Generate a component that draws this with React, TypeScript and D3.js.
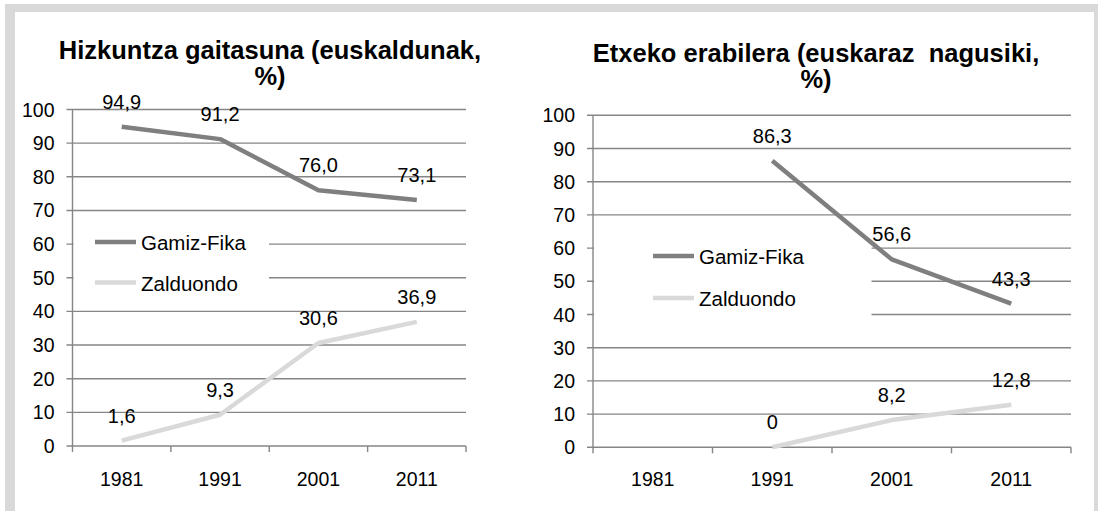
import * as d3 from 'd3';

const years = ['1981', '1991', '2001', '2011'];
const yTicks = [0, 10, 20, 30, 40, 50, 60, 70, 80, 90, 100];
const seriesNames = ['Gamiz-Fika', 'Zalduondo'];

const gaitasunaGamiz = [94.9, 91.2, 76.0, 73.1];
const gaitasunaZald = [1.6, 9.3, 30.6, 36.9];
const erabileraGamiz: (number | null)[] = [null, 86.3, 56.6, 43.3];
const erabileraZald: (number | null)[] = [null, 0, 8.2, 12.8];

const W = 1098;
const H = 511;
const FONT = '"Liberation Sans", Arial, sans-serif';
const dark = '#7f7f7f';
const light = '#d9d9d9';
const grid = '#868686';
const colors = [dark, light];

const fmt = (v: number) => (v === 0 ? '0' : v.toFixed(1).replace('.', ','));

interface PanelProps {
    titleLines: string[];
    titleX: number;
    titleY: number;
    x0: number;
    x1: number;
    yBottom: number;
    yTop: number;
    series: (number | null)[][];
    legendX: number;
    legendY: number;
    legendGap: number;
    legendBox: [number, number, number]; // right edge, top, bottom
}

function Panel(p: PanelProps) {
    const x = d3.scaleBand<string>().domain(years).range([p.x0, p.x1]);
    const y = d3.scaleLinear().domain([0, 100]).range([p.yBottom, p.yTop]);
    const cx = (d: string) => (x(d) || 0) + x.bandwidth() / 2;

    const line = d3.line<[string, number | null]>()
        .defined(d => d[1] !== null)
        .x(d => cx(d[0]))
        .y(d => y(d[1] as number));

    const ticksX = years.map(d => x(d) || 0).concat([p.x1]);

    return (
        <g>
            {p.titleLines.map((t, i) => (
                <text key={i} x={p.titleX} y={p.titleY + i * 26} textAnchor="middle"
                    fontFamily={FONT} fontWeight="bold" fontSize={25.5} fill="#000"
                    style={{ whiteSpace: 'pre' }}>{t}</text>
            ))}

            {/* gridlines */}
            {yTicks.map(t => (
                <g key={t}>
                    <line x1={p.x0 - 6} x2={p.x1} y1={y(t)} y2={y(t)} stroke={grid} strokeWidth={1.4} />
                    <text x={p.x0 - 18} y={y(t) + 7} textAnchor="end" fontFamily={FONT}
                        fontSize={19.5} fill="#000">{t}</text>
                </g>
            ))}

            {/* legend box hides gridlines */}
            <rect x={p.x0 + 1} y={p.legendBox[1]} width={p.legendBox[0] - p.x0 - 1}
                height={p.legendBox[2] - p.legendBox[1]} fill="#fff" />

            {/* axes */}
            <line x1={p.x0} x2={p.x0} y1={p.yTop} y2={p.yBottom} stroke={grid} strokeWidth={1.4} />
            {ticksX.map((tx, i) => (
                <line key={i} x1={tx} x2={tx} y1={p.yBottom} y2={p.yBottom + 6} stroke={grid} strokeWidth={1.4} />
            ))}
            {years.map(d => (
                <text key={d} x={cx(d)} y={486} textAnchor="middle" fontFamily={FONT}
                    fontSize={19.5} fill="#000">{d}</text>
            ))}

            {/* series */}
            {p.series.map((s, i) => (
                <path key={i} d={line(years.map((d, j) => [d, s[j]])) || ''} fill="none"
                    stroke={colors[i]} strokeWidth={4.5} strokeLinejoin="round" />
            ))}
            {p.series.map((s, i) => s.map((v, j) => v === null ? null : (
                <text key={`${i}-${j}`} x={cx(years[j])} y={y(v) - 18} textAnchor="middle"
                    fontFamily={FONT} fontSize={20} fill="#000">{fmt(v)}</text>
            )))}

            {/* legend */}
            {seriesNames.map((n, i) => (
                <g key={n}>
                    <line x1={p.legendX} x2={p.legendX + 41} y1={p.legendY + i * p.legendGap - 8}
                        y2={p.legendY + i * p.legendGap - 8} stroke={colors[i]} strokeWidth={4.5} />
                    <text x={p.legendX + 46} y={p.legendY + i * p.legendGap} fontFamily={FONT}
                        fontSize={20.5} fill="#000">{n}</text>
                </g>
            ))}
        </g>
    );
}

export default function App() {
    return (
        <svg width={W} height={H} viewBox={`0 0 ${W} ${H}`}
            style={{ position: 'absolute', left: 0, top: 0, background: '#fff' }}>
            <rect x={5} y={4} width={W - 5} height={H - 4} fill="#d9d9d9" />
            <rect x={15} y={12} width={1094 - 15} height={H - 12} fill="#fff" />
            <Panel
                titleLines={['Hizkuntza gaitasuna (euskaldunak,', '%)']}
                titleX={270} titleY={59}
                x0={72.5} x1={466} yBottom={446} yTop={109.5}
                series={[gaitasunaGamiz, gaitasunaZald]}
                legendX={95} legendY={250} legendGap={40.5}
                legendBox={[269, 222, 300]}
            />
            <Panel
                titleLines={['Etxeko erabilera (euskaraz  nagusiki,', '%)']}
                titleX={816} titleY={62}
                x0={593} x1={1071} yBottom={447.3} yTop={115.3}
                series={[erabileraGamiz, erabileraZald]}
                legendX={653} legendY={264} legendGap={42}
                legendBox={[871.5, 228, 330]}
            />
        </svg>
    );
}
